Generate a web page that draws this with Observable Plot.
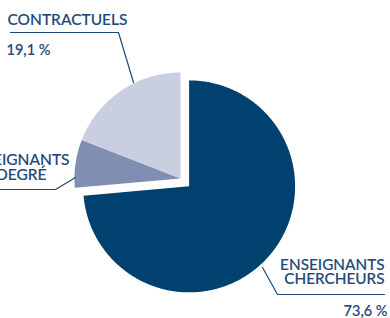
<!DOCTYPE html>
<html><head><meta charset="utf-8">
<script src="https://cdn.jsdelivr.net/npm/d3@7"></script>
<script src="https://cdn.jsdelivr.net/npm/@observablehq/plot@0.6"></script>
<style>body{margin:0;background:#fff}svg{display:block}</style>
</head><body><div id="chart"></div>
<script>
const categories = ["ENSEIGNANTS CHERCHEURS", "ENSEIGNANTS 2ND DEGRÉ", "CONTRACTUELS"];
const values = [73.6, 7.3, 19.1];
const valueLabels = ["73,6 %", "7,3 %", "19,1 %"];
const colors = ["#00416f", "#7f8eb1", "#c9cfe1"];

const W = 390, H = 318, R = 106, CX = 180, CY = 178;
// unit coordinates: pixel = CX + R*u, CY - R*v
const U = (px, py) => ({x: (px - CX) / R, y: (CY - py) / R});

const pie = d3.pie().sort(null).value(d => d)(values);
const explode = [0.11, 0, 0];
const polys = [];
pie.forEach((p, i) => {
  const mid = (p.startAngle + p.endAngle) / 2;
  const ox = explode[i] * Math.sin(mid), oy = explode[i] * Math.cos(mid);
  const pts = [{x: ox, y: oy}];
  const n = Math.max(8, Math.ceil((p.endAngle - p.startAngle) / 0.01));
  for (let k = 0; k <= n; k++) {
    const a = p.startAngle + (p.endAngle - p.startAngle) * k / n;
    pts.push({x: ox + Math.sin(a), y: oy + Math.cos(a)});
  }
  pts.push({x: ox, y: oy});
  pts.forEach((q, j) => polys.push({...q, cat: categories[i], order: j}));
});

const textColor = "#1d4877";
const leaders = [
  {id: "c", pts: [U(10, 32), U(118, 32), U(133, 82)]},
  {id: "s", pts: [U(-5, 189), U(55, 189), U(75, 177)]},
  {id: "e", pts: [U(262, 267), U(277, 294), U(384, 294)]}
].flatMap(l => l.pts.map(p => ({...p, id: l.id})));

const labels = [
  {...U(7, 24), t: "CONTRACTUELS", anchor: "start", size: 15.5},
  {...U(6, 54.5), t: valueLabels[2], anchor: "start", size: 14.5},
  {...U(69, 164), t: "ENSEIGNANTS", anchor: "end", size: 15.5},
  {...U(46, 179), t: "2ND DEGRÉ", anchor: "end", size: 15.5},
  {...U(384, 269), t: "ENSEIGNANTS", anchor: "end", size: 15.3},
  {...U(384, 283.5), t: "CHERCHEURS", anchor: "end", size: 15.3},
  {...U(387, 315.5), t: valueLabels[0], anchor: "end", size: 14.5}
];

const font = "Lato, 'Open Sans', sans-serif";
const chart = Plot.plot({
  width: W, height: H,
  margin: 0,
  x: {domain: [-CX / R, (W - CX) / R], axis: null},
  y: {domain: [(CY - H) / R, CY / R], axis: null},
  style: {fontFamily: font, background: "#fff"},
  marks: [
    Plot.line(polys, {x: "x", y: "y", z: "cat", fill: d => colors[categories.indexOf(d.cat)], stroke: "none", curve: "linear"}),
    Plot.line(leaders, {x: "x", y: "y", z: "id", stroke: textColor, strokeWidth: 1.2}),
    ...labels.map(l => Plot.text([l], {x: "x", y: "y", text: "t", textAnchor: l.anchor, lineAnchor: "bottom", fill: textColor, stroke: textColor, strokeWidth: 0.15, fontSize: l.size, fontWeight: 500, fontFamily: font}))
  ]
});
document.getElementById("chart").append(chart);
</script></body></html>
